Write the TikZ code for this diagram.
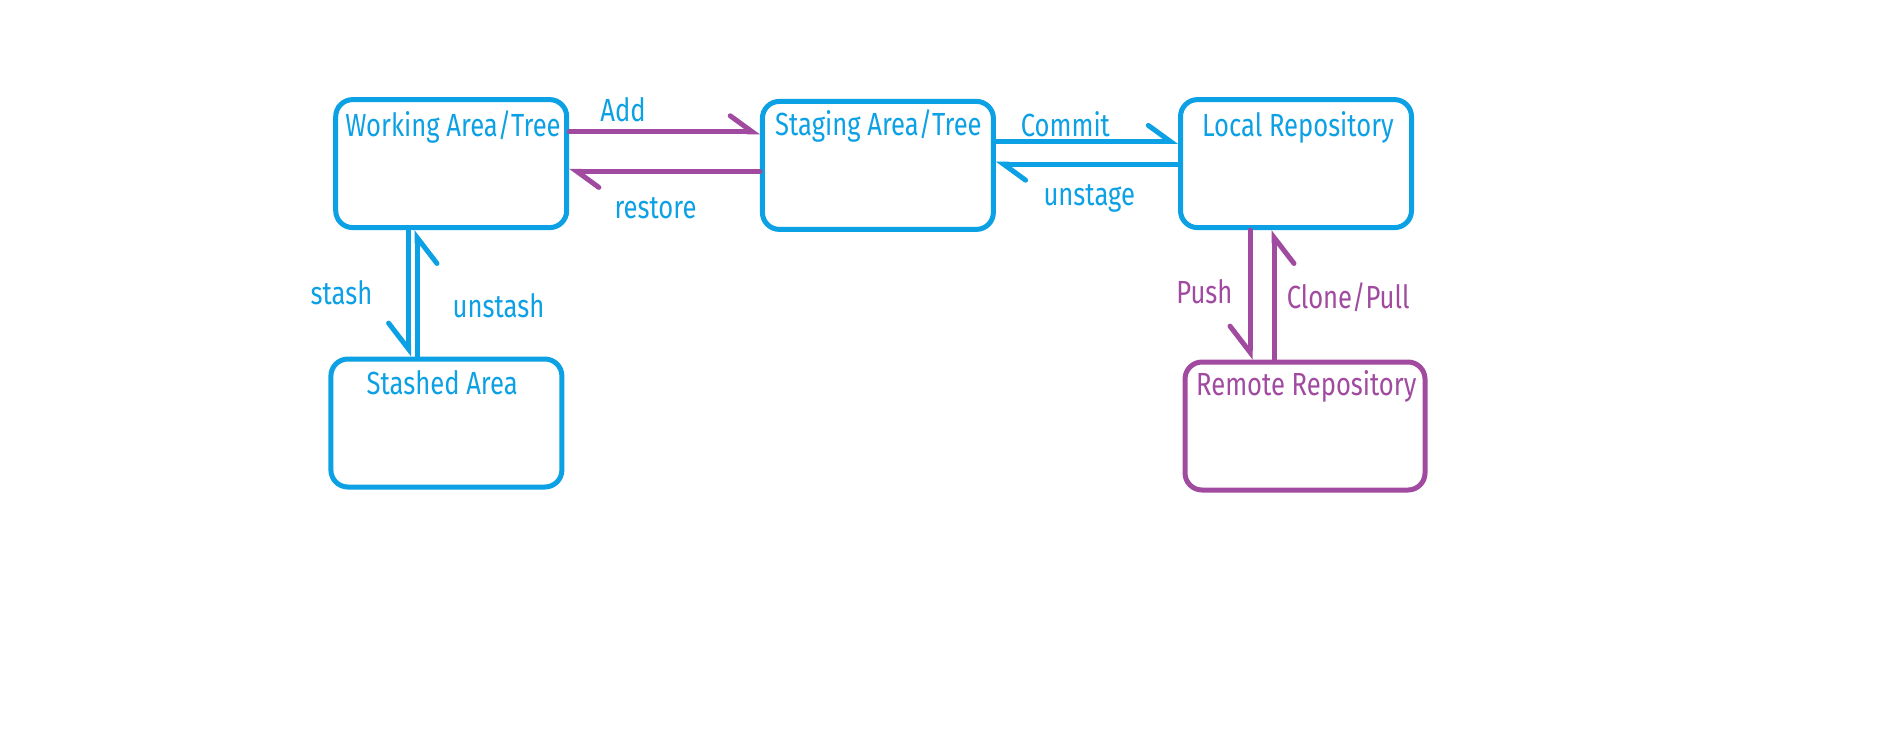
\documentclass[tikz,border=0pt]{standalone}
\usepackage{fontspec}
\setmainfont{Fira Sans}[FakeStretch=0.8]
\usetikzlibrary{arrows.meta}
\definecolor{gblue}{RGB}{12,160,228}
\definecolor{gpurple}{RGB}{160,74,160}
\begin{document}
\begin{tikzpicture}[x=1pt,y=-1pt,
  box/.style={draw, line width=5pt, rounded corners=17pt, inner sep=0pt, minimum width=231pt, minimum height=128pt},
  ttl/.style={font=\fontsize{32}{36}\selectfont, inner sep=0pt},
  lbl/.style={font=\fontsize{32}{36}\selectfont, inner sep=0pt},
  conn/.style={line width=5pt, line cap=round},
  hb/.style={-{Straight Barb[left, length=22pt, width=32pt, line cap=round]}},
  vb/.style={-{Straight Barb[right, length=26pt, width=40pt, line cap=round]}}]
\useasboundingbox[fill=white] (0,0) rectangle (1879,732);
% boxes
\node[box, gblue] (w) at (451.2,163.6) {};
\node[box, gblue] (s) at (877.9,165.4) {};
\node[box, gblue] (l) at (1296,163.6) {};
\node[box, gblue] (st) at (446.4,423) {};
\node[box, gpurple, minimum width=240pt] (r) at (1305,426) {};
% titles
\node[ttl, text=gblue] (wt) at (453,126.5) {Working Area/Tree};
\node[ttl, text=gblue] (stt) at (878.4,125.5) {Staging Area/Tree};
\node[ttl, text=gblue] (lt) at (1297.9,127.5) {Local Repository};
\node[ttl, text=gblue] (sht) at (442.2,383) {Stashed Area};
\node[ttl, text=gpurple] (rt) at (1306.3,386.5) {Remote Repository};
% helper coordinates
\coordinate (yAdd) at (0,131.8);
\coordinate (yRes) at (0,171.4);
\coordinate (yCom) at (0,141.4);
\coordinate (yUns) at (0,164.2);
\coordinate (xSta) at (408.6,0);
\coordinate (xUst) at (417,0);
\coordinate (xPus) at (1250,0);
\coordinate (xClo) at (1274,0);
% connectors
\draw[conn, gpurple, hb] (w.east |- yAdd) -- (s.west |- yAdd);
\draw[conn, gpurple, hb] (s.west |- yRes) -- (w.east |- yRes);
\draw[conn, gblue, hb] (s.east |- yCom) -- (l.west |- yCom);
\draw[conn, gblue, hb] (l.west |- yUns) -- (s.east |- yUns);
\draw[conn, gblue, vb] (xSta |- w.south) -- (xSta |- st.north);
\draw[conn, gblue, vb] (xUst |- st.north) -- (xUst |- w.south);
\draw[conn, gpurple, vb] (xPus |- l.south) -- (xPus |- r.north);
\draw[conn, gpurple, vb] (xClo |- r.north) -- (xClo |- l.south);
% labels
\node[lbl, text=gblue] (ladd) at (623,109.5) {Add};
\node[lbl, text=gblue] (lres) at (655.5,207.8) {restore};
\node[lbl, text=gblue] (lcom) at (1065.4,124) {Commit};
\node[lbl, text=gblue] (luns) at (1089.3,198) {unstage};
\node[lbl, text=gblue] (lsta) at (341.5,292.8) {stash};
\node[lbl, text=gblue] (lust) at (498.5,306) {unstash};
\node[lbl, text=gpurple] (lpus) at (1204.4,291.6) {Push};
\node[lbl, text=gpurple] (lclo) at (1348.2,297.6) {Clone/Pull};
\end{tikzpicture}
\end{document}
